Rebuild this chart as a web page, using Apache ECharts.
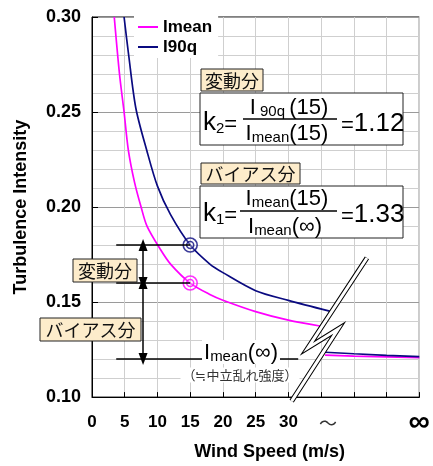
<!DOCTYPE html>
<html>
<head>
<meta charset="utf-8">
<script src="https://cdn.jsdelivr.net/npm/echarts@6.0.0/dist/echarts.min.js"></script>
<style>
  html, body { margin: 0; padding: 0; background: #fff; }
  #chart { width: 433px; height: 466px; }
</style>
</head>
<body>
<div id="chart"></div>
<script>
// x tick labels, one per 5 m/s step (35 -> "～", 50 -> "∞")
const xLabels = ["0", "5", "10", "15", "20", "25", "30", "～", "", "", "∞"];

// [wind speed, turbulence intensity]
const imean = [
  [3.4, 0.30], [4.2, 0.27], [4.9, 0.25], [5.55, 0.23], [6.5, 0.213], [7.5, 0.2],
  [8.4, 0.19], [10.4, 0.178], [12, 0.17], [15, 0.16], [18, 0.154], [20, 0.151],
  [25, 0.145], [30, 0.1405], [34.8, 0.1374],
];
const i90q = [
  [4.9, 0.30], [5.6, 0.28], [6.7, 0.252], [8.35, 0.23], [10, 0.211], [12, 0.196],
  [15, 0.18], [18, 0.17], [20, 0.1655], [25, 0.156], [30, 0.1509], [36.3, 0.1452],
];
// segments after the axis break (toward infinity)
const imeanInf = [[35.6, 0.1221], [40, 0.1216], [45, 0.1212], [50, 0.1208]];
const i90qInf = [[35.6, 0.1236], [40, 0.1228], [45, 0.122], [50, 0.1213]];

// highlighted points at 15 m/s
const markPts = [[15, 0.18], [15, 0.16]];
// guide levels and their extents
const guideLevels = [0.18, 0.16, 0.12];
const guideEnds = [15, 15, 31.5];
const guideStart = 3.7;
const arrowX = 7.8;

// break symbol, in data units
const breakShape = [[42.0, 0.1732], [33.0, 0.126], [37.6, 0.1358], [30.5, 0.0979]];

const MAG = "#ff00ff";
const NAVY = "#0a0a80";
const FF = '"Liberation Sans", Arial, sans-serif';
const CJK = '"Noto Sans CJK JP", sans-serif';
const TAG = "#fdeccb";

const chart = echarts.init(document.getElementById("chart"));

const rich = {
  k: { fontSize: 26, fontFamily: FF, verticalAlign: "bottom", lineHeight: 28 },
  s: { fontSize: 15, fontFamily: FF, verticalAlign: "bottom", lineHeight: 28 },
  q: { fontSize: 22, fontFamily: FF, verticalAlign: "bottom", lineHeight: 28 },
  b: { fontSize: 22, fontFamily: FF, verticalAlign: "bottom", lineHeight: 24 },
  m: { fontSize: 15, fontFamily: FF, verticalAlign: "bottom", lineHeight: 24 },
  v: { fontSize: 26, fontFamily: FF, verticalAlign: "bottom", lineHeight: 28 },
};

function txt(x, y, text, align, bg) {
  const st = {
    text: text, rich: rich, fill: "#000",
    align: align, textAlign: align,
    verticalAlign: "middle", textVerticalAlign: "middle",
    font: "22px " + FF,
  };
  if (bg) { st.backgroundColor = bg; st.padding = [0, 2, 0, 2]; }
  return { type: "text", x: x, y: y, z: 100, style: st };
}
function box(x, y, w, h, fill) {
  return { type: "rect", z: 99, shape: { x: x, y: y, width: w, height: h },
    style: { fill: fill, stroke: "#222", lineWidth: 1 } };
}
function tag(x, y, w, h, label) {
  return [
    box(x, y, w, h, TAG),
    { type: "text", z: 100, x: x + w / 2, y: y + h / 2 + 1,
      style: { text: label, fill: "#111", font: "18px " + CJK,
        align: "center", textAlign: "center", verticalAlign: "middle", textVerticalAlign: "middle" } },
  ];
}
function fline(x1, x2, y) {
  return { type: "line", z: 100, shape: { x1: x1, y1: y, x2: x2, y2: y },
    style: { stroke: "#000", lineWidth: 1.5 } };
}

const graphics = [].concat(
  tag(73, 259, 64, 23, "変動分"),
  tag(40, 318, 101, 23, "バイアス分"),
  tag(201, 69, 62, 22, "変動分"),
  tag(201, 163, 99, 21, "バイアス分"),
  [
    box(200, 93, 203, 52, "#fff"),
    txt(203, 122, "{k|k}{s|2}{q|=}", "left"),
    txt(289, 107, "{b|I}{m| 90q }{b|(15)}", "center"),
    fline(243, 337, 119),
    txt(287, 133, "{b|I}{m|mean}{b|(15)}", "center"),
    txt(341, 123, "{q|=}{v|1.12}", "left"),

    box(200, 186, 203, 52, "#fff"),
    txt(203, 213, "{k|k}{s|1}{q|=}", "left"),
    txt(287, 198, "{b|I}{m|mean}{b|(15)}", "center"),
    fline(240, 337, 211),
    txt(285, 226, "{b|I}{m|mean}{b|(∞)}", "center"),
    txt(341, 214, "{q|=}{v|1.33}", "left"),

    txt(241, 352, "{b|I}{m|mean}{b|(∞)}", "center", "#fff"),
    { type: "text", z: 100, x: 240, y: 375,
      style: { text: "（≒中立乱れ強度）", fill: "#333", font: "13px " + CJK,
        backgroundColor: "#fff", padding: [1, 2, 1, 2],
        align: "center", textAlign: "center", verticalAlign: "middle", textVerticalAlign: "middle" } },
  ]
);

const guideData = guideLevels.map((lv, i) => [
  { coord: [guideStart, lv], symbol: "none" },
  { coord: [guideEnds[i], lv], symbol: "none" },
]);
const arrowData = [
  [{ coord: [arrowX, guideLevels[0]], symbol: "triangle" }, { coord: [arrowX, guideLevels[1]], symbol: "triangle" }],
  [{ coord: [arrowX, guideLevels[1]], symbol: "triangle" }, { coord: [arrowX, guideLevels[2]], symbol: "triangle" }],
];

chart.setOption({
  animation: false,
  backgroundColor: "#fff",
  textStyle: { fontFamily: FF },
  grid: { left: 92, right: 13, top: 17, bottom: 63, show: true, borderColor: "#000", borderWidth: 1, backgroundColor: "transparent" },
  legend: {
    data: [
      { name: "Imean", icon: "rect", itemStyle: { color: MAG } },
      { name: "I90q", icon: "rect", itemStyle: { color: NAVY } },
    ],
    orient: "vertical",
    left: 134, top: 16,
    padding: [2, 6, 2, 4],
    itemGap: 2, itemWidth: 20, itemHeight: 2,
    backgroundColor: "#fff",
    textStyle: { fontSize: 17, fontWeight: "bold", color: "#000", fontFamily: FF, lineHeight: 18 },
  },
  xAxis: {
    type: "value", min: 0, max: 50, interval: 5,
    name: "Wind Speed (m/s)", nameLocation: "middle", nameGap: 43,
    nameTextStyle: { fontSize: 18, fontWeight: "bold", color: "#000", fontFamily: FF, padding: [0, 0, 0, 28] },
    axisLine: { lineStyle: { color: "#000", width: 1 } },
    axisTick: { inside: true, length: 5, lineStyle: { color: "#000" } },
    axisLabel: {
      margin: 17, fontSize: 17, fontWeight: "bold", color: "#000", fontFamily: FF,
      showMaxLabel: true, showMinLabel: true,
      formatter: (v) => {
        const s = xLabels[Math.round(v / 5)] || "";
        if (s === "～") return "{t|～}";
        if (s === "∞") return "{inf|∞}";
        return s;
      },
      rich: {
        t: { fontSize: 18, fontWeight: "normal", fontFamily: CJK, color: "#333", padding: [0, 0, 0, 14] },
        inf: { fontSize: 30, fontWeight: "bold", fontFamily: FF, color: "#000", lineHeight: 18 },
      },
    },
    splitLine: { show: true, lineStyle: { color: "#cfcfcf", width: 1 } },
  },
  yAxis: {
    type: "value", min: 0.1, max: 0.3, interval: 0.05,
    name: "Turbulence Intensity", nameLocation: "middle", nameGap: 62, nameRotate: 90,
    nameTextStyle: { fontSize: 18, fontWeight: "bold", color: "#000", fontFamily: FF },
    axisLine: { show: true, lineStyle: { color: "#000", width: 1 } },
    axisTick: { show: true, inside: true, length: 6, lineStyle: { color: "#000" } },
    axisLabel: { margin: 11, fontSize: 18, fontWeight: "bold", color: "#000", fontFamily: FF,
      formatter: (v) => v.toFixed(2) },
    splitLine: { show: true, lineStyle: { color: "#9a9a9a", width: 1 } },
    minorTick: { show: false, splitNumber: 5 },
    minorSplitLine: { show: true, lineStyle: { color: "#cfcfcf", width: 1 } },
  },
  graphic: graphics,
  series: [
    {
      name: "Imean", type: "line", data: imean, smooth: 0.3, symbol: "none",
      lineStyle: { color: MAG, width: 1.7 }, itemStyle: { color: MAG }, z: 3,
      markLine: {
        silent: true, animation: false, symbolSize: [9, 12],
        label: { show: false },
        lineStyle: { color: "#000", width: 1.5, type: "solid" },
        data: guideData.concat(arrowData),
      },
    },
    {
      name: "I90q", type: "line", data: i90q, smooth: 0.3, symbol: "none",
      lineStyle: { color: NAVY, width: 1.7 }, itemStyle: { color: NAVY }, z: 3,
    },
    { name: "ImeanInf", type: "line", data: imeanInf, symbol: "none", lineStyle: { color: MAG, width: 1.7 }, z: 3 },
    { name: "I90qInf", type: "line", data: i90qInf, symbol: "none", lineStyle: { color: NAVY, width: 1.7 }, z: 3 },
    {
      name: "marks", type: "scatter", z: 4, silent: true,
      data: [
        { value: markPts[0], symbolSize: 14, itemStyle: { borderColor: NAVY } },
        { value: markPts[0], symbolSize: 7, itemStyle: { borderColor: NAVY } },
        { value: markPts[1], symbolSize: 14, itemStyle: { borderColor: MAG } },
        { value: markPts[1], symbolSize: 7, itemStyle: { borderColor: MAG } },
      ],
      symbol: "circle",
      itemStyle: { color: "rgba(255,255,255,0.25)", borderWidth: 1.6 },
    },
    {
      name: "breakOuter", type: "line", data: breakShape, symbol: "none", clip: false, silent: true, z: 6,
      lineStyle: { color: "#000", width: 5, join: "miter", cap: "butt" },
    },
    {
      name: "breakInner", type: "line", data: breakShape, symbol: "none", clip: false, silent: true, z: 7,
      lineStyle: { color: "#fff", width: 3, join: "miter", cap: "butt" },
    },
  ],
});
</script>
</body>
</html>
